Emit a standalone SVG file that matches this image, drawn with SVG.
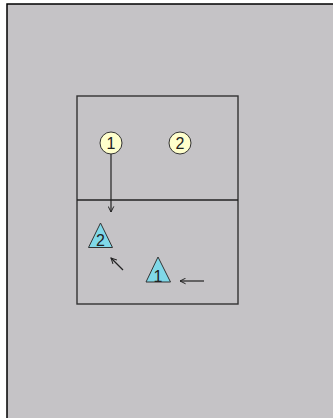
<svg xmlns="http://www.w3.org/2000/svg" width="333" height="418" viewBox="0 0 333 418">
<style>
.lbl{font-family:"Liberation Sans",Arial,sans-serif;font-size:16px;fill:#222;text-anchor:middle}
.pl{fill:#ffffcc;stroke:#333;stroke-width:1}
.tr{fill:#80d8e8;stroke:#333;stroke-width:1}
.cn{stroke:#222;stroke-width:1.2;fill:none;marker-end:url(#ah)}
</style>
<defs>
<marker id="ah" viewBox="0 0 10 10" refX="9" refY="5" markerWidth="7" markerHeight="7" markerUnits="userSpaceOnUse" orient="auto">
<path d="M1,1 L9,5 L1,9" fill="none" stroke="#222" stroke-width="1.4"/>
</marker>
</defs>
<rect x="0" y="0" width="333" height="418" fill="#ffffff"/>
<rect x="7" y="4" width="330" height="420" fill="#c5c3c6" stroke="#000" stroke-width="1.5"/>
<g id="court">
<rect x="77" y="96" width="161" height="208" fill="none" stroke="#333" stroke-width="1.4"/>
<line x1="77" y1="200" x2="238" y2="200" stroke="#222" stroke-width="1.4"/>
</g>
<g id="connectors">
<line class="cn" x1="111" y1="154" x2="111" y2="212"/>
<line class="cn" x1="123" y1="270" x2="111" y2="258"/>
<line class="cn" x1="204" y1="281" x2="180" y2="281"/>
</g>
<g id="p1"><circle class="pl" cx="111" cy="143" r="11"/><text class="lbl" x="111" y="148.5">1</text></g>
<g id="p2"><circle class="pl" cx="180" cy="143" r="11"/><text class="lbl" x="180" y="148.5">2</text></g>
<g id="t2"><polygon class="tr" points="100.5,223 88.5,247.5 112.5,247.5"/><text class="lbl" x="100.5" y="246">2</text></g>
<g id="t1"><polygon class="tr" points="158,257 146,282 170.5,282"/><text class="lbl" x="158" y="281.5">1</text></g>
</svg>
